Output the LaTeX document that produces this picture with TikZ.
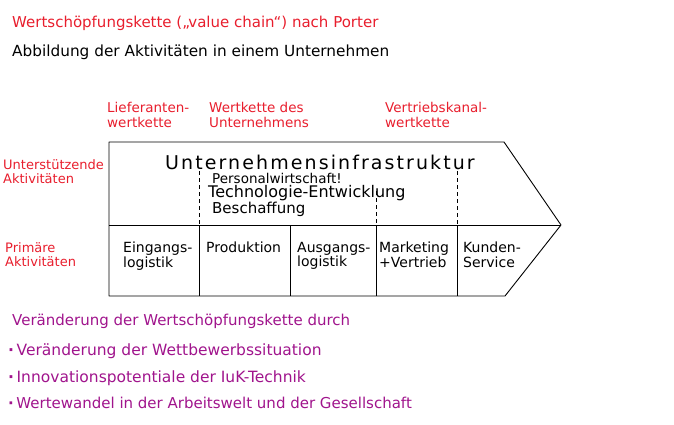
\documentclass[tikz,border=0pt]{standalone}
\usepackage{fontspec}
\setmainfont{DejaVu Sans}
\usepackage{xcolor}
\usepackage{tikz}
\usetikzlibrary{positioning}

\definecolor{hwred}{RGB}{232,30,45}
\definecolor{hwpurple}{RGB}{160,20,140}

\tikzset{
  hw/.style={inner sep=0pt, anchor=north west, align=left},
  redlbl/.style={hw, text=hwred, font=\fontsize{13.5}{15}\selectfont},
  celltxt/.style={hw, font=\fontsize{14}{14.5}\selectfont},
  suptxt/.style={inner sep=0pt, anchor=base west, font=\fontsize{14}{16}\selectfont},
  change/.style={inner sep=0pt, anchor=base west, text=hwpurple, font=\fontsize{15.5}{17}\selectfont},
  chain/.style={line width=0.9pt, line join=round},
  dashsep/.style={line width=0.9pt, dash pattern=on 4pt off 3pt}
}

\begin{document}
\begin{tikzpicture}[x=1pt,y=-1pt]
        \useasboundingbox (0,0) rectangle (674,425);
        % heading
        \node[inner sep=0pt, anchor=base west, text=hwred, font=\fontsize{15}{16}\selectfont] (title) at (12,28) {Wertschöpfungskette („value chain“) nach Porter};
        \node[inner sep=0pt, anchor=base west, font=\fontsize{15.3}{16}\selectfont] (subtitle) at (12,57) {Abbildung der Aktivitäten in einem Unternehmen};
        % chain labels above the arrow
        \node[redlbl] (lief) at (107,102) {Lieferanten-\\wertkette};
        \node[redlbl] (wertu) at (209,102) {Wertkette des\\Unternehmens};
        \node[redlbl] (vertr) at (385,102) {Vertriebskanal-\\wertkette};
        % row labels
        \node[redlbl, font=\fontsize{13}{14}\selectfont] (unterst) at (3,159) {Unterstützende\\Aktivitäten};
        \node[redlbl, font=\fontsize{13}{14}\selectfont] (primaer) at (5,242) {Primäre\\Aktivitäten};
        % the arrow
        \coordinate (nw) at (109,142);
        \coordinate (ne) at (504,142);
        \coordinate (tip) at (561,225);
        \coordinate (se) at (505,296);
        \coordinate (sw) at (109,296);
        \coordinate (wm) at (109,225);
        \draw[chain] (nw) -- (ne) -- (tip) -- (se) -- (sw) -- cycle;
        \draw[chain] (wm) -- (tip);
        % primary activities
        \foreach \cx in {199,290,376,457} {
            \draw[chain] (\cx,225) -- (\cx,296);
        }
        % support activities
        \foreach \cx/\cy in {199/171, 376/191, 457/171} {
            \draw[dashsep] (\cx,\cy) -- (\cx,225);
        }
        \node[inner sep=0pt, anchor=base west, font=\fontsize{19}{20}\selectfont\addfontfeatures{LetterSpace=11}] (infra) at (165,169) {Unternehmensinfrastruktur};
        \node[suptxt, font=\fontsize{13.5}{14}\selectfont] (personal) at (212,183) {Personalwirtschaft!};
        \node[suptxt, font=\fontsize{16}{16}\selectfont] (technik) at (208,197) {Technologie-Entwicklung};
        \node[suptxt, font=\fontsize{15}{14}\selectfont] (beschaff) at (212,213) {Beschaffung};
        \node[celltxt] (eingang) at (123,242) {Eingangs-\\logistik};
        \node[celltxt] (produktion) at (206,242) {Produktion};
        \node[celltxt] (ausgang) at (297,242) {Ausgangs-\\logistik};
        \node[celltxt] (marketing) at (379,242) {Marketing\\+Vertrieb};
        \node[celltxt] (kunden) at (463,242) {Kunden-\\Service};
        % changes
        \node[change, font=\fontsize{15}{17}\selectfont] (aenderung) at (12,325) {Veränderung der Wertschöpfungskette durch};
        \node[change] (punkt1) at (8,355) {\textbf{·}\,Veränderung der Wettbewerbssituation};
        \node[change] (punkt2) at (8,382) {\textbf{·}\,Innovationspotentiale der IuK-Technik};
        \node[change, font=\fontsize{15}{17}\selectfont] (punkt3) at (8,408) {\textbf{·}\,Wertewandel in der Arbeitswelt und der Gesellschaft};
    \end{tikzpicture}
\end{document}
